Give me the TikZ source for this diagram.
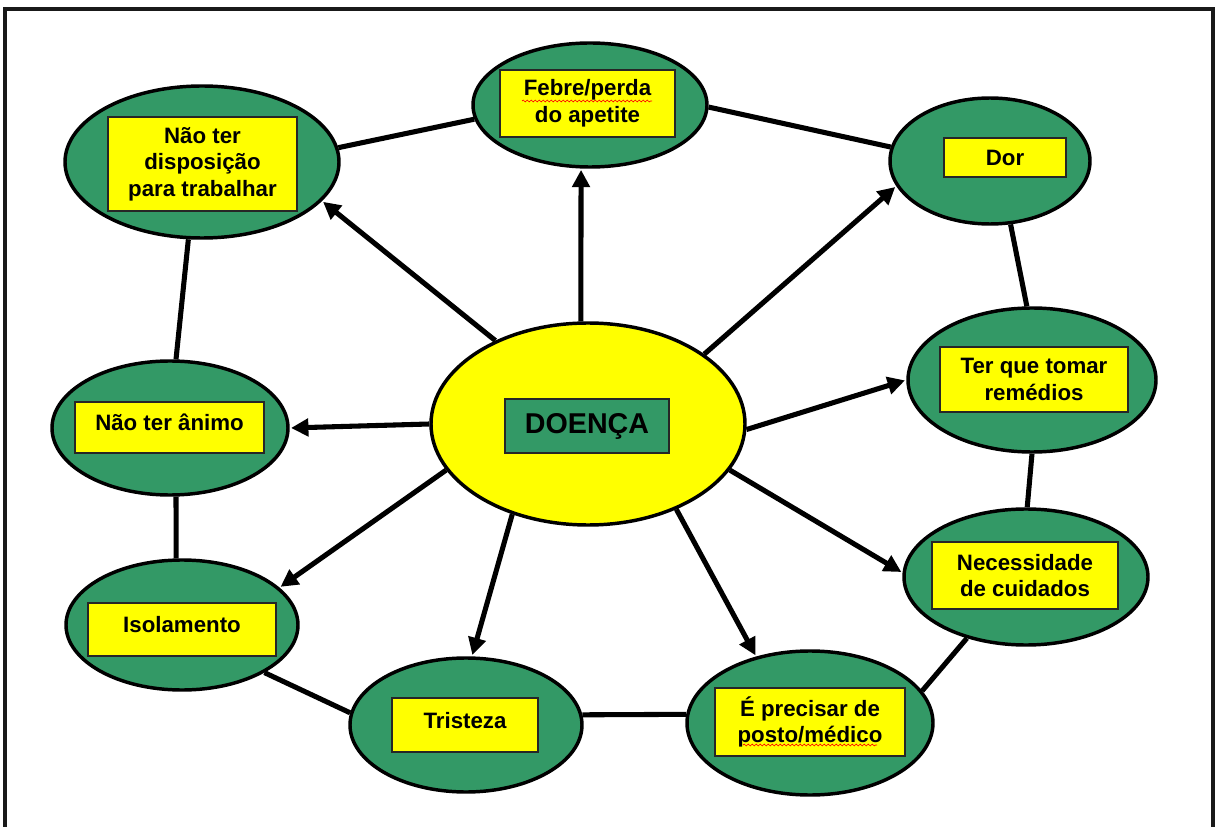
\documentclass[tikz,border=0pt]{standalone}
\usepackage{fontspec}
\setmainfont{Liberation Sans}
\usetikzlibrary{arrows.meta,shapes.geometric,decorations.pathmorphing}
\definecolor{gfill}{HTML}{339966}
\definecolor{yfill}{HTML}{FFFF00}
\tikzset{
  el/.style 2 args={ellipse, draw=black, line width=2.6pt, fill=gfill, inner sep=0pt,
     minimum width=#1*0.75pt, minimum height=#2*0.75pt},
  yel/.style 2 args={el={#1}{#2}, fill=yfill},
  bx/.style 2 args={rectangle, draw=black!85, line width=0.8pt, fill=yfill, inner sep=0pt,
     minimum width=#1*0.75pt, minimum height=#2*0.75pt, align=center,
     font=\bfseries\fontsize{16.7}{20}\selectfont},
  raised/.style={text depth=7.5pt},
  gbx/.style 2 args={bx={#1}{#2}, fill=gfill, font=\bfseries\fontsize{21.5}{24}\selectfont},
  link/.style={line width=3.8pt},
  arr/.style={line width=3.8pt, -{Triangle[length=13pt,width=13pt]}, shorten >=1pt},
  squig/.style={red, line width=0.5pt, decorate, decoration={snake, segment length=3pt, amplitude=0.7pt}}
}
\begin{document}
\begin{tikzpicture}[x=0.75pt,y=-0.75pt]
\useasboundingbox (0,0) rectangle (1215,827);
% frame
\draw[line width=2.5pt, black!90] (5,840) -- (5,9) -- (1213,9) -- (1213,840);

% ellipses
\node[el={234}{124}] (febre) at (590,105) {};
\node[el={274}{152}] (disp) at (202,162) {};
\node[el={200}{126}] (dor) at (990,161) {};
\node[el={248}{144}] (ter) at (1032,380) {};
\node[el={244}{136}] (nec) at (1026,577) {};
\node[el={246}{144}] (prec) at (810,723) {};
\node[el={232}{134}] (trist) at (466,725) {};
\node[el={232}{130}] (iso) at (182,625) {};
\node[el={236}{134}] (anim) at (170,428) {};
\node[yel={314}{202}] (doenca) at (588,424) {};

% boxes
\node[bx={175}{67}] (febreT) at (587.5,103.5) {Febre/perda\\do apetite};
\node[bx={189}{94}] (dispT) at (202.5,164) {Não ter\\disposição\\para trabalhar};
\node[bx={122}{39}] (dorT) at (1005,157.5) {Dor};
\node[bx={188}{65}] (terT) at (1034,379.5) {Ter que tomar\\remédios};
\node[bx={186}{67}] (necT) at (1025,575.5) {Necessidade\\de cuidados};
\node[bx={190}{68}] (precT) at (810,722) {É precisar de\\posto/médico};
\node[bx={146}{54}, raised] (tristT) at (465,725) {Tristeza};
\node[bx={188}{53}, raised] (isoT) at (182,629.5) {Isolamento};
\node[bx={189}{51}, raised] (animT) at (169.5,427.5) {Não ter ânimo};
\node[gbx={164}{54}] (doencaT) at (587,426) {DOENÇA};

% spell-check squiggles
\draw[squig] (522,101) -- (652,101);
\draw[squig] (743,745) -- (877,745);

% ring connectors
\draw[link] (disp.6) -- (febre.187);
\draw[link] (febre.359) -- (dor.172);
\draw[link] (dor.288) -- (ter.94);
\draw[link] (ter.270) -- (nec.89);
\draw[link] (nec.226) -- (prec.16);
\draw[link] (prec.176) -- (trist.5);
\draw[link] (trist.174) -- (iso.330);
\draw[link] (iso.95) -- (anim.275);
\draw[link] (anim.85) -- (disp.260);

% arrows from centre
\draw[arr] (doenca.94) -- (febre.262);
\draw[arr] (doenca.138) -- (disp.342);
\draw[arr] (doenca.31) -- (dor.195);
\draw[arr] (doenca.358) -- (ter.180);
\draw[arr] (doenca.342) -- (nec.178);
\draw[arr] (doenca.316) -- (prec.129);
\draw[arr] (doenca.230) -- (trist.85);
\draw[arr] (doenca.198) -- (iso.21);
\draw[arr] (doenca.180) -- (anim.0);
\end{tikzpicture}
\end{document}
